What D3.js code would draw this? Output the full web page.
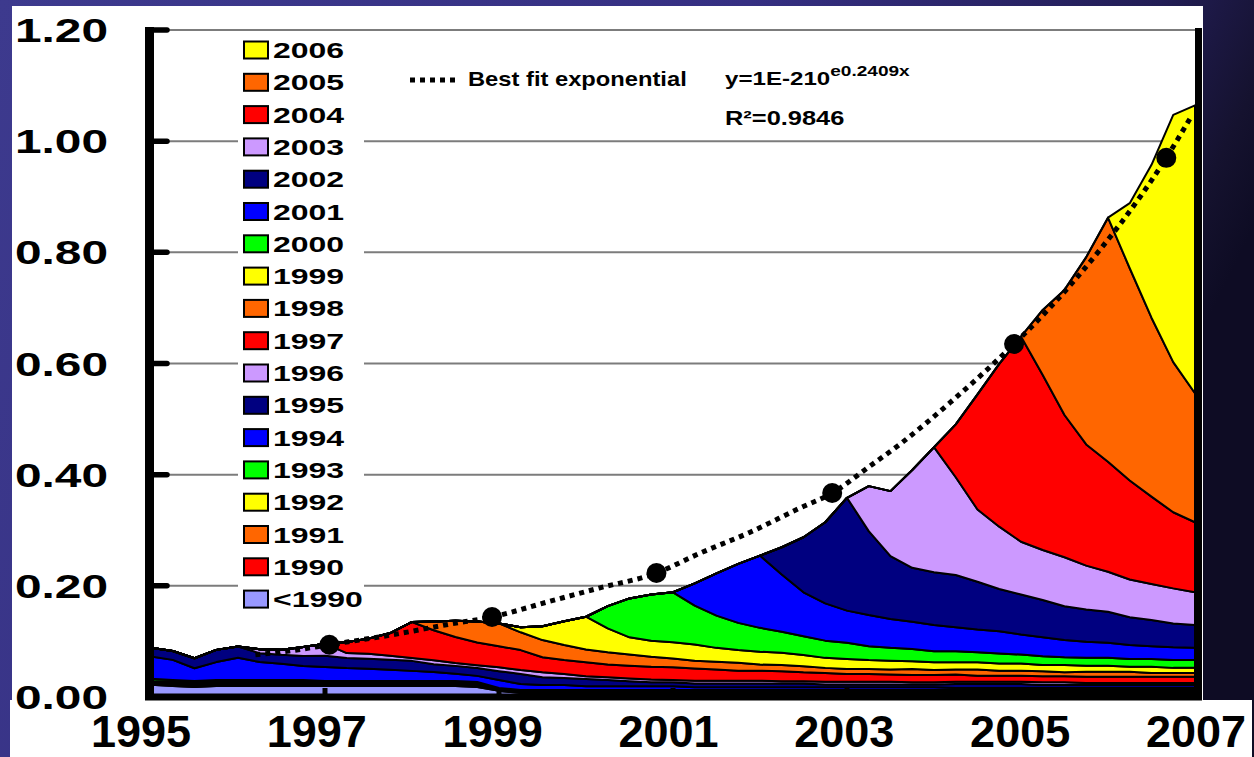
<!DOCTYPE html>
<html>
<head>
<meta charset="utf-8">
<script src="https://cdn.jsdelivr.net/npm/d3@7"></script>
<style>
  html, body { margin: 0; padding: 0; background: #1c1a48; }
  svg { display: block; }
  text { font-family: "Liberation Sans", Arial, Helvetica, sans-serif; font-weight: bold; fill: #000; }
</style>
</head>
<body>
<svg id="chart" width="1254" height="757"></svg>
<script>
// ---- time grid: quarterly points from 1995.0 to 2007.0 ----
const quarters = d3.range(49).map(i => 1995 + i * 0.25);

// ---- vintages (bottom of the stack first) ----
const vintages = ["<1990", "1990", "1991", "1992", "1993", "1994", "1995", "1996",
                  "1997", "1998", "1999", "2000", "2001", "2002", "2003", "2004", "2005", "2006"];
const vintageColors = ["#9999ff", "#ff0000", "#ff6600", "#ffff00", "#00ff00", "#0000ff", "#000080", "#cc99ff",
                       "#ff0000", "#ff6600", "#ffff00", "#00ff00", "#0000ff", "#000080", "#cc99ff", "#ff0000", "#ff6600", "#ffff00"];

// ---- contribution of each vintage; each list runs up to 2007.0 ----
const vPre1990 = [0.022,0.020,0.018,0.020, 0.020,0.020,0.020,0.020, 0.020,0.020,0.020,0.020, 0.020,0.020,0.020,0.018,
                  0.011,0.007,0.007,0.007, 0.007,0.007,0.007,0.007, 0.007,0.007,0.007,0.007, 0.007,0.007,0.007,0.007,
                  0.007,0.007,0.007,0.007, 0.007,0.007,0.007,0.007, 0.007,0.007,0.007,0.007, 0.007,0.007,0.007,0.007, 0.007];
const v1990 = [0.003,0.003,0.003,0.003, 0.003,0.003,0.003,0.003, 0.0025,0.0025,0.0025,0.0025, 0.0025,0.0025,0.0025,0.0025,
               0.0015,0.0015,0.0015,0.0015, 0.0015,0.0015,0.0015,0.0015, 0.0015,0.0015,0.0015,0.0015, 0.0015,0.0015,0.0015,0.0015,
               0.0015,0.0015,0.0015,0.0015, 0.0015,0.0015,0.0015,0.0015, 0.0015,0.0015,0.0015,0.0015, 0.0015,0.0015,0.0015,0.0015, 0.0015];
const v1991 = [0.002,0.002,0.002,0.002, 0.002,0.002,0.002,0.002, 0.0018,0.0018,0.0018,0.0018, 0.0018,0.0018,0.0018,0.0018,
               0.001,0.001,0.001,0.001, 0.001,0.001,0.001,0.001, 0.001,0.001,0.001,0.001, 0.001,0.001,0.001,0.001,
               0.001,0.001,0.001,0.001, 0.001,0.001,0.001,0.001, 0.001,0.001,0.001,0.001, 0.001,0.001,0.001,0.001, 0.001];
const v1992 = [0.002,0.002,0.002,0.002, 0.002,0.002,0.002,0.002, 0.0017,0.0017,0.0017,0.0017, 0.0017,0.0017,0.0017,0.0017,
               0.001,0.001,0.001,0.001, 0.001,0.001,0.001,0.001, 0.001,0.001,0.001,0.001, 0.001,0.001,0.001,0.001,
               0.001,0.001,0.001,0.001, 0.001,0.001,0.001,0.001, 0.001,0.001,0.001,0.001, 0.001,0.001,0.001,0.001, 0.001];
const v1993 = [0.0038,0.0038,0.0038,0.0038, 0.0038,0.0038,0.0038,0.0038, 0.003,0.003,0.003,0.003, 0.003,0.003,0.003,0.003,
               0.0019,0.0019,0.0019,0.0019, 0.0019,0.0019,0.0019,0.0019, 0.0019,0.0019,0.0019,0.0019, 0.0019,0.0019,0.0019,0.0019,
               0.0019,0.0019,0.0019,0.0019, 0.0019,0.0019,0.0019,0.0019, 0.0019,0.0019,0.0019,0.0019, 0.0019,0.0019,0.0019,0.0019, 0.0019];
const v1994 = [0.040,0.036,0.023,0.032, 0.040,0.032,0.029,0.025, 0.025,0.023,0.022,0.020, 0.018,0.016,0.013,0.011,
               0.014,0.011,0.009,0.009, 0.007,0.007,0.007,0.007, 0.007,0.005,0.005,0.005, 0.005,0.005,0.005,0.005,
               0.005,0.005,0.005,0.005, 0.005,0.004,0.004,0.004, 0.004,0.004,0.004,0.004, 0.004,0.004,0.004,0.004, 0.004];
const v1995 = [0.016,0.016,0.018,0.022, 0.020,0.016,0.016,0.018, 0.020,0.018,0.018,0.018, 0.018,0.014,0.014,0.014,
               0.016,0.018,0.014,0.013, 0.013,0.011,0.009,0.007, 0.007,0.007,0.007,0.007, 0.007,0.007,0.007,0.005,
               0.005,0.005,0.005,0.005, 0.005,0.007,0.007,0.007, 0.007,0.005,0.005,0.005, 0.005,0.005,0.005,0.005, 0.005];
const v1996 = [0,0.007,0.009,0.016, 0.022,0.009,0.009,0.007, 0.005,0.007,0.005,0.005, 0.007,0.007,0.009,0.007,
               0.005,0.005,0.005,0.005, 0.004,0.005,0.005,0.005, 0.005,0.004,0.004,0.005, 0.005,0.005,0.005,0.004,
               0.004,0.004,0.004,0.004, 0.004,0.005,0.005,0.004, 0.004,0.004,0.004,0.004, 0.004];
const v1997 = [0,0.020,0.027,0.041, 0.065,0.054,0.047,0.041, 0.038,0.036,0.027,0.025, 0.025,0.023,0.023,0.023,
               0.023,0.022,0.020,0.018, 0.018,0.018,0.016,0.016, 0.014,0.014,0.013,0.013, 0.013,0.013,0.011,0.011,
               0.011,0.011,0.011,0.011, 0.011,0.011,0.011,0.011, 0.011];
const v1998 = [0,0.016,0.029,0.038, 0.041,0.032,0.031,0.027, 0.023,0.022,0.020,0.018, 0.016,0.014,0.014,0.014,
               0.011,0.011,0.011,0.009, 0.009,0.009,0.009,0.011, 0.009,0.009,0.011,0.009, 0.009,0.009,0.007,0.009,
               0.009,0.009,0.007,0.007, 0.007];
const v1999 = [0,0.009,0.025,0.043, 0.059,0.043,0.031,0.029, 0.029,0.029,0.025,0.023, 0.023,0.022,0.020,0.018,
               0.018,0.016,0.016,0.014, 0.014,0.013,0.013,0.013, 0.013,0.011,0.013,0.011, 0.011,0.009,0.011,0.009, 0.009];
const v2000 = [0,0.040,0.070,0.083, 0.090,0.070,0.058,0.049, 0.043,0.038,0.034,0.031, 0.029,0.025,0.023,0.022,
               0.020,0.020,0.018,0.018, 0.016,0.016,0.014,0.014, 0.014,0.014,0.014,0.014, 0.014];
const v2001 = [0,0.040,0.076,0.106, 0.130,0.103,0.079,0.067, 0.058,0.056,0.052,0.049, 0.047,0.043,0.041,0.040,
               0.036,0.034,0.031,0.029, 0.027,0.025,0.023,0.023, 0.022];
const v2002 = [0,0.049,0.099,0.146, 0.203,0.151,0.113,0.097, 0.095,0.094,0.086,0.076, 0.072,0.067,0.061,0.058,
               0.056,0.050,0.047,0.043, 0.041];
const v2003 = [0,0.081,0.117,0.176, 0.225,0.176,0.130,0.112, 0.095,0.090,0.088,0.079, 0.072,0.068,0.065,0.063, 0.059];
const v2004 = [0,0.095,0.207,0.293, 0.369,0.315,0.256,0.218, 0.198,0.178,0.157,0.137, 0.126];
const v2005 = [0,0.117,0.225,0.337, 0.439,0.382,0.322,0.270, 0.232];
const v2006 = [0,0.117,0.275,0.445, 0.518];

const seriesValues = [vPre1990, v1990, v1991, v1992, v1993, v1994, v1995, v1996,
                      v1997, v1998, v1999, v2000, v2001, v2002, v2003, v2004, v2005, v2006];

// ---- fitted trend (dotted) and its yearly markers ----
const trendYears  = [1996.2, 1996.6, 1997.05, 1997.85, 1998.43, 1998.92, 1999.58, 2000.15, 2000.81,
                     2001.3, 2001.88, 2002.46, 2002.83, 2003.26, 2003.61, 2004.18, 2004.92, 2005.33,
                     2005.91, 2006.37, 2006.67, 2006.94];
const trendValues = [0.076, 0.083, 0.094, 0.114, 0.131, 0.144, 0.172, 0.196, 0.223,
                     0.258, 0.296, 0.340, 0.367, 0.415, 0.455, 0.529, 0.635, 0.700,
                     0.805, 0.900, 0.970, 1.040];
const markerYears  = [1997.05, 1998.92, 2000.81, 2002.83, 2004.92, 2006.67];
const markerValues = [0.094, 0.144, 0.223, 0.367, 0.635, 0.970];

// ---- axis labels ----
const yTicks = [0, 0.2, 0.4, 0.6, 0.8, 1.0, 1.2];
const xLabelYears = [1995, 1997, 1999, 2001, 2003, 2005, 2007];
const xMinorTicks = [1997, 1999, 2001, 2003, 2005];

// ---- build stacked table ----
const rows = quarters.map((t, i) => {
  const row = { t };
  vintages.forEach((k, j) => {
    const arr = seriesValues[j];
    const off = quarters.length - arr.length;
    row[k] = i >= off ? arr[i - off] : 0;
  });
  return row;
});
const stacked = d3.stack().keys(vintages)(rows);

// ---- scales ----
const x = d3.scaleLinear().domain([1995, 2007]).range([151, 1195]);
const y = d3.scaleLinear().domain([0, 1.2]).range([697, 30]);
const xLabel = d3.scaleLinear().domain([1995, 2007]).range([141, 1196]);

const svg = d3.select("#chart");

// ---- slide background ----
const defs = svg.append("defs");
const bg = defs.append("linearGradient").attr("id", "bg").attr("x1", 0).attr("x2", 1).attr("y1", 0).attr("y2", 0.3);
[[0, "#3d3a8e"], [0.55, "#352f82"], [0.85, "#221d55"], [0.95, "#15122f"], [1, "#0e0c24"]]
  .forEach(([o, c]) => bg.append("stop").attr("offset", o).attr("stop-color", c));
svg.append("rect").attr("width", 1254).attr("height", 757).attr("fill", "url(#bg)");

// white panels
svg.append("rect").attr("x", 12).attr("y", 6).attr("width", 1191).attr("height", 700).attr("fill", "#fff");
svg.append("rect").attr("x", 10).attr("y", 700).attr("width", 1242).attr("height", 57).attr("fill", "#fff");

// ---- gridlines ----
svg.append("g").selectAll("line").data(yTicks.filter(v => v > 0)).join("line")
  .attr("x1", 150).attr("x2", 1198)
  .attr("y1", d => y(d)).attr("y2", d => y(d))
  .attr("stroke", "#7c7c7c").attr("stroke-width", 2);

// ---- stacked areas ----
const area = d3.area()
  .x(d => x(d.data.t))
  .y0(d => y(d[0]))
  .y1(d => y(d[1]));

svg.append("g").selectAll("path").data(stacked).join("path")
  .attr("d", area)
  .attr("fill", (d, i) => vintageColors[i])
  .attr("stroke", "#000")
  .attr("stroke-width", 2)
  .attr("stroke-linejoin", "round");

// ---- legend ----
svg.append("rect").attr("x", 238).attr("y", 36).attr("width", 126).attr("height", 577).attr("fill", "#fff");
const legendOrder = vintages.map((k, i) => ({ k, c: vintageColors[i] })).reverse();
const legend = svg.append("g");
legendOrder.forEach((d, i) => {
  const cy = 50 + i * 32.3;
  legend.append("rect")
    .attr("x", 244).attr("y", cy - 8.5).attr("width", 24).attr("height", 17)
    .attr("fill", d.c).attr("stroke", "#000").attr("stroke-width", 2);
  legend.append("text")
    .attr("transform", `translate(273,${cy + 8}) scale(1.42,1)`)
    .attr("font-size", 22.5)
    .text(d.k);
});

// ---- trend line ----
const trendLine = d3.line()
  .x(d => x(d[0]))
  .y(d => y(d[1]))
  .curve(d3.curveMonotoneX);
svg.append("path")
  .attr("d", trendLine(trendYears.map((t, i) => [t, trendValues[i]])))
  .attr("fill", "none").attr("stroke", "#000")
  .attr("stroke-width", 5).attr("stroke-dasharray", "5,5");

svg.append("g").selectAll("circle").data(markerYears).join("circle")
  .attr("cx", d => x(d))
  .attr("cy", (d, i) => y(markerValues[i]))
  .attr("r", 10).attr("fill", "#000");

// ---- annotation ----
svg.append("line").attr("x1", 410).attr("x2", 460).attr("y1", 80).attr("y2", 80)
  .attr("stroke", "#000").attr("stroke-width", 5).attr("stroke-dasharray", "5,5");
svg.append("text").attr("transform", "translate(468,86) scale(1.13,1)")
  .attr("font-size", 21).text("Best fit exponential");
const eq = svg.append("text").attr("transform", "translate(725,85) scale(1.27,1)").attr("font-size", 19);
eq.append("tspan").text("y=1E-210");
eq.append("tspan").attr("font-size", 15).attr("dy", -9).text("e0.2409x");
svg.append("text").attr("transform", "translate(725,125) scale(1.27,1)")
  .attr("font-size", 20).text("R\u00B2=0.9846");

// ---- axes ----
const axes = svg.append("g").attr("stroke", "#000").attr("fill", "none");
axes.append("line").attr("x1", 149.5).attr("x2", 149.5).attr("y1", 27).attr("y2", 700).attr("stroke-width", 9);
axes.append("g").selectAll("line").data(yTicks.filter(v => v > 0)).join("line")
  .attr("x1", 150).attr("x2", 167)
  .attr("y1", d => y(d)).attr("y2", d => y(d))
  .attr("stroke-width", 5.5).attr("stroke-linecap", "round");
axes.append("line").attr("x1", 145).attr("x2", 1202).attr("y1", 697).attr("y2", 697).attr("stroke-width", 7);
axes.append("line").attr("x1", 1198.5).attr("x2", 1198.5).attr("y1", 28).attr("y2", 700).attr("stroke-width", 7);
axes.append("g").selectAll("line").data(xMinorTicks).join("line")
  .attr("x1", d => x(d)).attr("x2", d => x(d))
  .attr("y1", 697).attr("y2", 688).attr("stroke-width", 5);

// ---- tick labels ----
svg.append("g").selectAll("text").data(yTicks).join("text")
  .attr("transform", d => `translate(108,${y(d) + 12}) scale(1.45,1)`)
  .attr("text-anchor", "end")
  .attr("font-size", 33)
  .text(d => d3.format(".2f")(d));

svg.append("g").selectAll("text").data(xLabelYears).join("text")
  .attr("x", d => xLabel(d)).attr("y", 747)
  .attr("text-anchor", "middle")
  .attr("font-size", 45)
  .text(d => d);
</script>
</body>
</html>
